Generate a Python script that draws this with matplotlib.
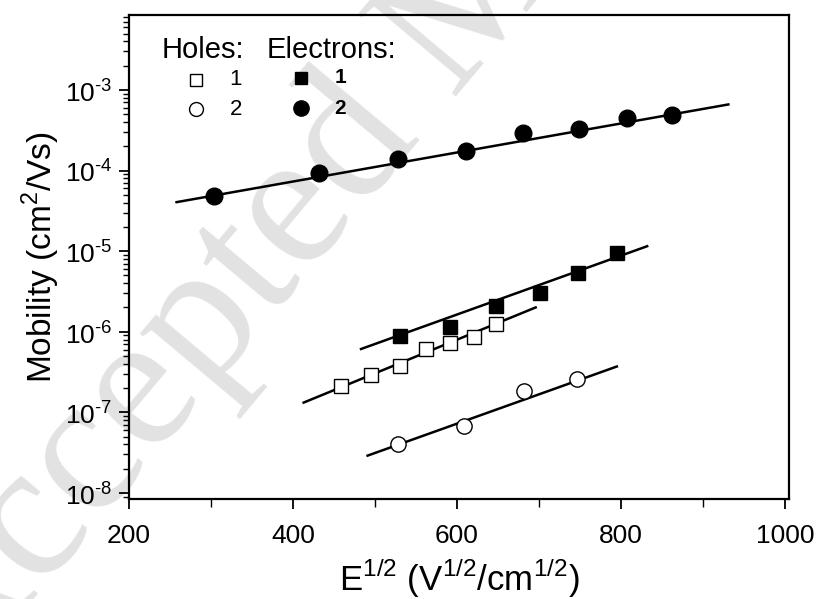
import matplotlib
matplotlib.use("Agg")
import matplotlib.pyplot as plt
import matplotlib.ticker as ticker
import numpy as np

plt.rcParams['font.family'] = ['Liberation Sans', 'DejaVu Sans']
plt.rcParams['mathtext.fontset'] = 'custom'
plt.rcParams['mathtext.rm'] = 'Liberation Sans'

# holes, sample 1 (open squares)
h1_x = [458, 495, 530, 562, 592, 621, 648]
h1_y = [2.14e-7, 2.9e-7, 3.8e-7, 6.1e-7, 7.3e-7, 8.7e-7, 1.25e-6]
h1_fit_x = [413, 696]
h1_fit_y = [1.32e-7, 2.0e-6]

# holes, sample 2 (open circles)
h2_x = [528, 609, 682, 747]
h2_y = [4.1e-8, 6.8e-8, 1.84e-7, 2.57e-7]
h2_fit_x = [491, 795]
h2_fit_y = [2.9e-8, 3.7e-7]

# electrons, sample 1 (filled squares)
e1_x = [530, 592, 648, 701, 748, 795]
e1_y = [8.9e-7, 1.16e-6, 2.09e-6, 3.05e-6, 5.3e-6, 9.4e-6]
e1_fit_x = [483, 832]
e1_fit_y = [6.1e-7, 1.15e-5]

# electrons, sample 2 (filled circles)
e2_x = [304, 432, 528, 611, 681, 749, 807, 862]
e2_y = [4.8e-5, 9.2e-5, 1.39e-4, 1.77e-4, 2.9e-4, 3.3e-4, 4.45e-4, 4.9e-4]
e2_fit_x = [258, 931]
e2_fit_y = [4.05e-5, 6.6e-4]


def sci_label(v, pos):
    # 10 with a plain hyphen in the exponent, like the original
    e = int(round(np.log10(v)))
    return r"$10^{\text{%d}}$" % e


fig = plt.figure(figsize=(8.22, 5.99), dpi=100)
ax = fig.add_axes([129/822, 1-499/599, 660/822, 484/599])
ax.set_facecolor('none')
ax.set_zorder(1)

# faint watermark behind everything
fig.text(-50/822, 1-700/599, "Accepted Manuscript", family=['Liberation Serif', 'DejaVu Serif'],
         fontsize=140, color='#e2e2e2', rotation=50, rotation_mode='anchor',
         ha='left', va='baseline', zorder=-5)

lw = 1.8
ax.plot(h1_fit_x, h1_fit_y, color='k', lw=lw)
ax.plot(h2_fit_x, h2_fit_y, color='k', lw=lw)
ax.plot(e1_fit_x, e1_fit_y, color='k', lw=lw)
ax.plot(e2_fit_x, e2_fit_y, color='k', lw=lw)

ax.plot(h1_x, h1_y, 's', ms=9.5, mfc='white', mec='k', mew=1.0, ls='none')
ax.plot(h2_x, h2_y, 'o', ms=11, mfc='white', mec='k', mew=1.0, ls='none')
ax.plot(e1_x, e1_y, 's', ms=10, color='k', ls='none')
ax.plot(e2_x, e2_y, 'o', ms=12, color='k', ls='none')

ax.set_yscale('log')
ax.set_xlim(200, 1005)
ax.set_ylim(8.4e-9, 8.5e-3)

ax.set_xticks([200, 400, 600, 800, 1000])
ax.xaxis.set_minor_locator(ticker.MultipleLocator(100))
ax.yaxis.set_major_locator(ticker.LogLocator(base=10, numticks=20))
ax.yaxis.set_major_formatter(ticker.FuncFormatter(sci_label))
ax.yaxis.set_minor_locator(ticker.LogLocator(base=10, subs=np.arange(2, 10), numticks=20))
ax.yaxis.set_minor_formatter(ticker.NullFormatter())

for s in ax.spines.values():
    s.set_linewidth(1.6)
ax.tick_params(which='major', direction='out', length=7, width=1.3, labelsize=19)
ax.tick_params(axis='x', which='major', pad=11)
ax.tick_params(axis='y', which='major', pad=5)
ax.tick_params(which='minor', direction='out', length=4, width=1.0)
ax.tick_params(axis='x', which='minor', length=6)

ax.set_xlabel(r"E$^{1/2}$ (V$^{1/2}$/cm$^{1/2}$)", fontsize=25, labelpad=6)
ax.set_ylabel(r"Mobility (cm$^2$/Vs)", fontsize=24, labelpad=2)

# legend block
ax.text(0.049, 0.911, "Holes:", transform=ax.transAxes, fontsize=21, va='baseline')
ax.text(0.209, 0.911, "Electrons:", transform=ax.transAxes, fontsize=21, va='baseline')
ax.plot([0.1015], [0.866], 's', ms=9, mfc='white', mec='k', mew=1.0, transform=ax.transAxes)
ax.plot([0.1015], [0.805], 'o', ms=10, mfc='white', mec='k', mew=1.0, transform=ax.transAxes)
ax.plot([0.260], [0.870], 's', ms=9, color='k', transform=ax.transAxes)
ax.plot([0.260], [0.807], 'o', ms=11, color='k', transform=ax.transAxes)
ax.text(0.162, 0.866, "1", transform=ax.transAxes, fontsize=16, ha='center', va='center')
ax.text(0.162, 0.805, "2", transform=ax.transAxes, fontsize=16, ha='center', va='center')
ax.text(0.320, 0.870, "1", transform=ax.transAxes, fontsize=15, ha='center', va='center', fontweight='bold')
ax.text(0.320, 0.807, "2", transform=ax.transAxes, fontsize=15, ha='center', va='center', fontweight='bold')

fig.savefig("out.png", dpi=100)
